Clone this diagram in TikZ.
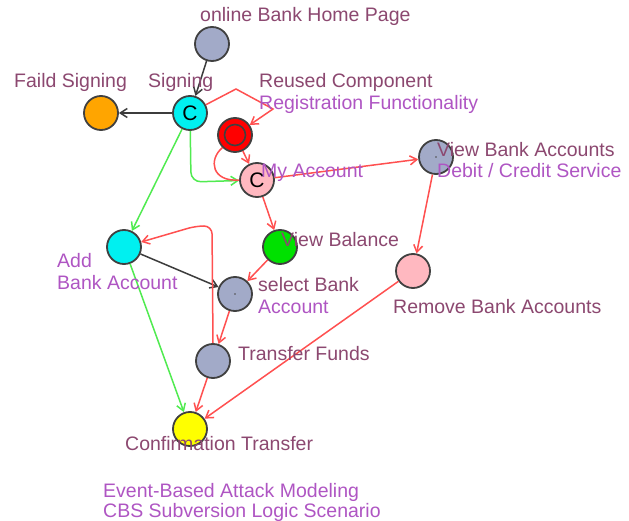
\documentclass[tikz,border=0pt]{standalone}
\usepackage{fontspec}
\setmainfont{Liberation Sans}
\usetikzlibrary{arrows.meta}
\definecolor{plum}{RGB}{140,72,112}
\definecolor{purp}{RGB}{175,85,195}
\definecolor{redE}{RGB}{255,80,80}
\definecolor{greenE}{RGB}{80,235,80}
\definecolor{darkE}{RGB}{60,60,60}
\definecolor{greyF}{RGB}{162,170,200}
\definecolor{cyanF}{RGB}{0,240,240}
\definecolor{orangeF}{RGB}{255,165,0}
\definecolor{pinkF}{RGB}{255,184,192}
\definecolor{greenF}{RGB}{0,225,0}
\definecolor{yellowF}{RGB}{255,255,0}
\tikzset{
  vert/.style={circle, draw=black!75, line width=1.8pt, minimum size=34pt, inner sep=0pt, font=\fontsize{21}{21}\selectfont},
  lbl/.style={anchor=base west, inner sep=0pt, font=\fontsize{19.5}{23}\selectfont, text=plum},
  lblp/.style={lbl, text=purp},
  tip/.style={-{Straight Barb[length=7pt,width=9pt]}},
  redline/.style={draw=redE, line width=1.5pt},
  greenline/.style={draw=greenE, line width=1.5pt},
  darkline/.style={draw=darkE, line width=1.5pt},
}
\begin{document}
\begin{tikzpicture}[x=1pt,y=-1pt]
\useasboundingbox[fill=white] (0,0) rectangle (629,521);
% vertices
\node[vert, fill=greyF] (home) at (212,44) {};
\node[vert, fill=cyanF] (sign) at (190,113) {C};
\node[vert, fill=orangeF] (faild) at (101,113) {};
\node[vert, fill=red] (reuse) at (235,135) {};
\node[circle, draw=black!75, line width=1.6pt, minimum size=21pt, inner sep=0pt] (reusein) at (235,135) {};
\node[vert, fill=pinkF] (myacc) at (257,180) {C};
\node[vert, fill=greyF] (viewba) at (436,157) {};
\node[vert, fill=pinkF] (remove) at (413,271) {};
\node[vert, fill=cyanF] (add) at (124,247) {};
\node[vert, fill=greenF] (balance) at (280,247) {};
\node[vert, fill=greyF] (select) at (235,294) {};
\node[vert, fill=greyF] (transfer) at (213,361) {};
\node[vert, fill=yellowF] (confirm) at (190,429) {};
\fill[black!70] (viewba.center) circle (0.8pt);
\fill[black!70] (select.center) circle (0.8pt);
% corner coordinates
\coordinate (c1) at (236,89);
\coordinate (c2) at (273,109);
\coordinate (g1) at (191,182);
\coordinate (t1) at (212,226);
\coordinate (t2) at (196,226);
% edges
\draw[darkline, tip] (home) -- (sign);
\draw[darkline, tip] (sign) -- (faild);
\draw[greenline, tip] (sign) -- (add);
\draw[greenline, tip, rounded corners=10pt] (sign) -- (g1) -- (myacc);
\draw[redline, tip] (sign) -- (c1) -- (c2) -- (reuse);
\draw[redline, tip] (reuse) -- (myacc);
\draw[redline] (reuse.225) .. controls (208,160) and (212,182) .. (myacc.180);
\draw[redline, tip] (myacc) -- (viewba);
\draw[redline, tip] (myacc) -- (balance);
\draw[redline, tip] (viewba) -- (remove);
\draw[redline, tip] (balance) -- (select);
\draw[darkline, tip] (add) -- (select);
\draw[redline, tip] (select) -- (transfer);
\draw[redline, tip, rounded corners=8pt] (transfer.north) -- (t1) -- (t2) -- (add);
\draw[redline, tip] (transfer) -- (confirm);
\draw[redline, tip] (remove) -- (confirm);
\draw[greenline, tip] (add) -- (confirm);
% labels
\node[lbl] (lhome) at (200,22) {online Bank Home Page};
\node[lbl] (lfaild) at (14,88) {Faild Signing};
\node[lbl] (lsign) at (148,88) {Signing};
\node[lbl] (lreuse1) at (259,88) {Reused Component};
\node[lblp] (lreuse2) at (259,110) {Registration Functionality};
\node[lblp] (lmyacc) at (261,178) {My Account};
\node[lbl] (lviewba1) at (437,157) {View Bank Accounts};
\node[lblp] (lviewba2) at (437,178) {Debit / Credit Service};
\node[lbl] (lbalance) at (281,247) {View Balance};
\node[lblp] (ladd1) at (57,268) {Add};
\node[lblp] (ladd2) at (57,290) {Bank Account};
\node[lbl] (lselect1) at (258,292) {select Bank};
\node[lblp] (lselect2) at (258,313) {Account};
\node[lbl] (lremove) at (393,313) {Remove Bank Accounts};
\node[lbl] (ltransfer) at (238,360) {Transfer Funds};
\node[lbl] (lconfirm) at (125,450) {Confirmation Transfer};
\node[lblp] (ltitle1) at (103,497) {Event-Based Attack Modeling};
\node[lblp] (ltitle2) at (103,517) {CBS Subversion Logic Scenario};
\end{tikzpicture}
\end{document}
